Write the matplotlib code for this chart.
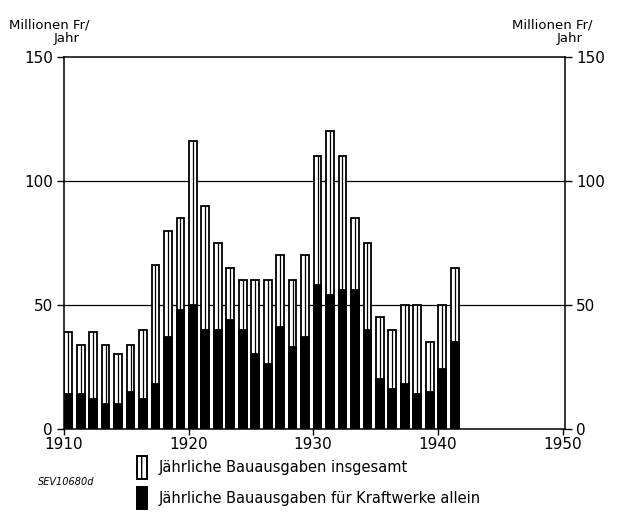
import numpy as np
import matplotlib.pyplot as plt
from matplotlib.patches import Patch

# Jährliche Bauausgaben (Mio Fr./Jahr), 1910-1941
years = np.arange(1910, 1942)
total = [39, 34, 39, 34, 30, 34, 40, 66, 80, 85, 116, 90, 75, 65, 60, 60,
         60, 70, 60, 70, 110, 120, 110, 85, 75, 45, 40, 50, 50, 35, 50, 65]
kraftwerke = [14, 14, 12, 10, 10, 15, 12, 18, 37, 48, 50, 40, 40, 44, 40, 30,
              26, 41, 33, 37, 58, 54, 56, 56, 40, 20, 16, 18, 14, 15, 24, 35]

label_total = 'Jährliche Bauausgaben insgesamt'
label_kw = 'Jährliche Bauausgaben für Kraftwerke allein'

plt.rcParams['font.family'] = 'DejaVu Sans'

fig = plt.figure(figsize=(6.32, 5.13), dpi=100)
ax = fig.add_axes([0.101, 0.164, 0.793, 0.725])

pos = years + 0.35
w = 0.62
ax.bar(pos, total, width=w, color='white', edgecolor='black', linewidth=1.3, zorder=2)
ax.bar(pos, kraftwerke, width=w, color='black', edgecolor='black', linewidth=1.3, zorder=3)
ax.vlines(pos, kraftwerke, total, color='black', linewidth=0.9, zorder=3)

ax.set_xlim(1910, 1950.2)
ax.set_ylim(0, 150)
ax.set_xticks([1910, 1920, 1930, 1940, 1950])
ax.set_yticks([0, 50, 100, 150])
ax.tick_params(axis='y', left=True, right=True, labelleft=True, labelright=True,
               direction='out', length=5, width=1, labelsize=11, pad=3)
ax.tick_params(axis='x', direction='out', length=4, width=1, labelsize=11, pad=2)
for s in ax.spines.values():
    s.set_linewidth(1.1)
for yv in (50, 100):
    ax.axhline(yv, color='black', linewidth=0.9, zorder=1)

fig.text(0.015, 0.945, 'Millionen Fr/', fontsize=9.5)
fig.text(0.085, 0.918, 'Jahr', fontsize=9.5)
fig.text(0.81, 0.945, 'Millionen Fr/', fontsize=9.5)
fig.text(0.88, 0.918, 'Jahr', fontsize=9.5)

handles = [Patch(facecolor='white', edgecolor='black', hatch='|', linewidth=1.4),
           Patch(facecolor='black', edgecolor='black', linewidth=1.4)]
fig.legend(handles, [label_total, label_kw], loc='upper left',
           bbox_to_anchor=(0.205, 0.125), frameon=False, fontsize=10.5,
           handlelength=0.7, handleheight=2.0, handletextpad=0.8,
           labelspacing=0.55, borderpad=0)

fig.text(0.06, 0.055, 'SEV10680d', fontsize=7, style='italic')

fig.savefig('out.png', dpi=100)
